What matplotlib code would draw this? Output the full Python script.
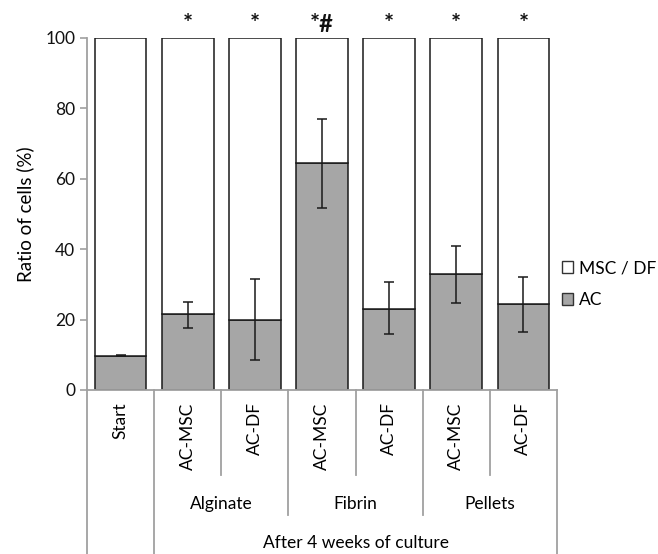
import matplotlib
matplotlib.use("Agg")
import matplotlib.pyplot as plt
from matplotlib.patches import Patch
import matplotlib.transforms as mtransforms

plt.rcParams['font.family'] = ['Lato', 'DejaVu Sans']

categories = ["Start", "AC-MSC", "AC-DF", "AC-MSC", "AC-DF", "AC-MSC", "AC-DF"]
groups = ["Alginate", "Fibrin", "Pellets"]
outer_label = "After 4 weeks of culture"
ac_values = [9.8, 21.6, 20.0, 64.5, 23.0, 32.9, 24.3]
err_low = [0.2, 3.9, 11.4, 12.8, 7.1, 8.2, 7.7]
err_high = [0.2, 3.3, 11.4, 12.6, 7.6, 7.9, 7.9]
total = [100] * 7
signif = ["", "*", "*", "*#", "*", "*", "*"]
series_names = ["MSC / DF", "AC"]

fig = plt.figure(figsize=(6.58, 5.54), dpi=100)
ax = fig.add_axes([87/658, 1-390/554, (557-87)/658, (390-38)/554])

x = list(range(len(categories)))
rest = [t - a for t, a in zip(total, ac_values)]
ax.bar(x, ac_values, width=0.77, color="#a6a6a6", edgecolor="#1a1a1a", linewidth=1.1, zorder=2)
ax.bar(x, rest, bottom=ac_values, width=0.77, color="white", edgecolor="#1a1a1a", linewidth=1.1, zorder=2)
ax.errorbar(x, ac_values, yerr=[err_low, err_high], fmt='none', ecolor="#1a1a1a",
            elinewidth=1.1, capsize=3.5, capthick=1.1, zorder=3)

for xi, s in zip(x, signif):
    if s:
        ax.text(xi, 103.8, s, ha='center', va='center', fontsize=17, fontweight='bold', color="#111111")

ax.set_xlim(-0.5, 6.5)
ax.set_ylim(0, 100)
ax.set_yticks([0, 20, 40, 60, 80, 100])
ax.tick_params(axis='y', labelsize=12.5, length=5, width=1.2, color="#a0a0a0", labelcolor="#111111")
ax.set_xticks([])
for side in ["top", "right"]:
    ax.spines[side].set_visible(False)
for side in ["left", "bottom"]:
    ax.spines[side].set_color("#a0a0a0")
    ax.spines[side].set_linewidth(1.3)
ax.set_ylabel("Ratio of cells (%)", fontsize=13.5, labelpad=8)

trans = mtransforms.blended_transform_factory(ax.transData, ax.transAxes)
line_kw = dict(color="#a0a0a0", lw=1.3, transform=trans, clip_on=False)
bottom_y = -0.466
sep_depth = {-0.5: bottom_y, 0.5: bottom_y, 1.5: -0.241, 2.5: -0.355,
             3.5: -0.241, 4.5: -0.355, 5.5: -0.241, 6.5: bottom_y}
for xs, yd in sep_depth.items():
    ax.plot([xs, xs], [0, yd], **line_kw)

for xi, c in zip(x, categories):
    ax.text(xi, -0.035, c, rotation=90, ha='center', va='top', fontsize=12.5, transform=trans)

for gi, g in enumerate(groups):
    ax.text(1.5 + 2 * gi, -0.324, g, ha='center', va='center', fontsize=12.5, transform=trans)
ax.text(3.5, -0.435, outer_label, ha='center', va='center', fontsize=12.5, transform=trans)

handles = [Patch(facecolor="white", edgecolor="#333333", linewidth=1.0),
           Patch(facecolor="#a6a6a6", edgecolor="#333333", linewidth=1.0)]
leg = fig.legend(handles, series_names, loc='center left', bbox_to_anchor=(562/658, 1-284/554),
                 frameon=False, fontsize=12.5, handlelength=0.65, handleheight=0.65,
                 handletextpad=0.35, labelspacing=0.9, borderaxespad=0, borderpad=0)

fig.savefig("out.png", dpi=100, facecolor="white")
